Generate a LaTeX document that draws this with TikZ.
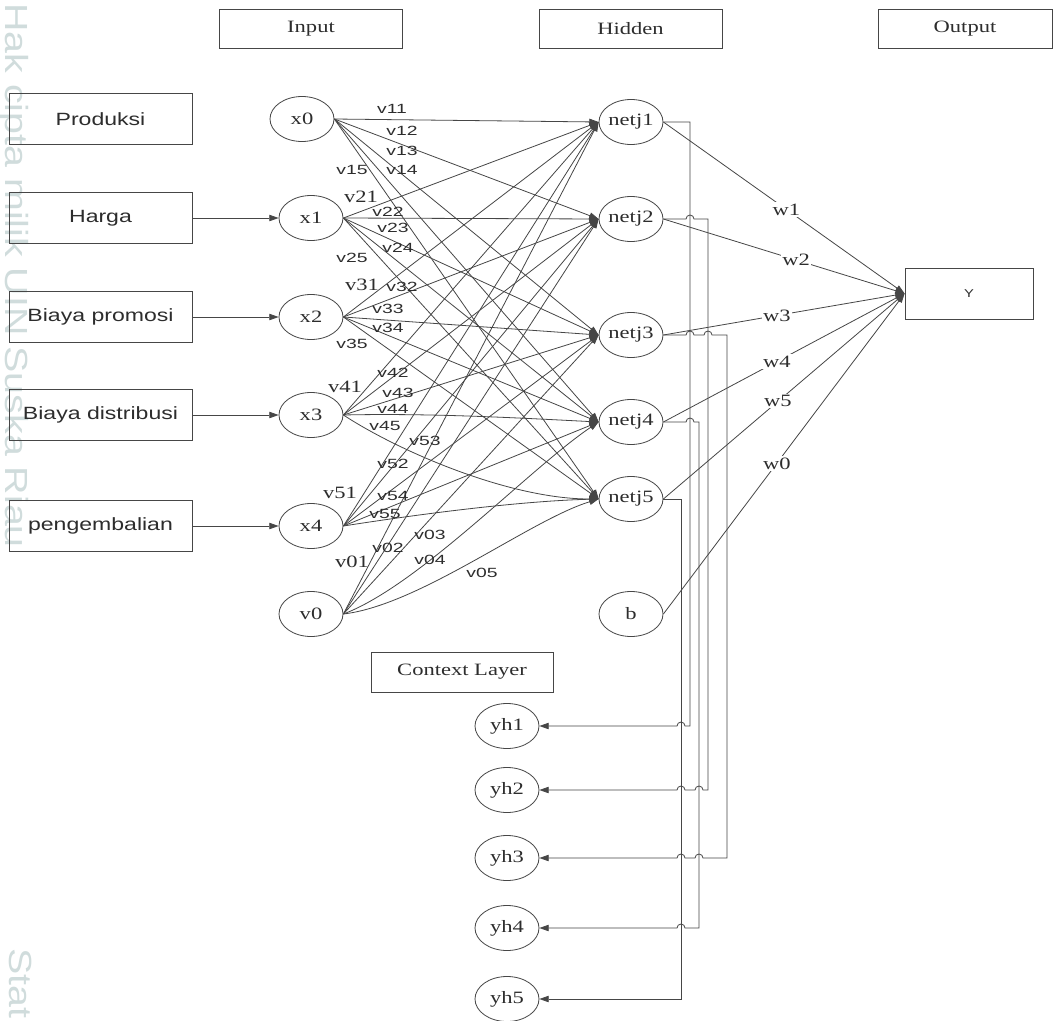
\documentclass[tikz,border=0pt]{standalone}
\usepackage{fontspec}
\usepackage{graphicx}
\setmainfont{Liberation Serif}
\newfontfamily\arialf{Liberation Sans}
\usetikzlibrary{arrows.meta,shapes.geometric}

\definecolor{linec}{RGB}{70,70,70}
\definecolor{txtc}{RGB}{45,45,45}
\definecolor{wmc}{RGB}{208,220,220}

% horizontally widened text
\newcommand\sw[2][1.3]{\scalebox{#1}[1]{#2}}
\newcommand\swl[1]{\scalebox{1.45}[1]{#1}}

\tikzset{
  ln/.style={draw=linec, line width=0.6pt},
  tip/.style={-{Triangle[length=7pt,width=4.8pt]}},
  neuron/.style={ellipse, draw=linec, line width=0.6pt, minimum width=48pt,
    minimum height=33.75pt, inner sep=0pt, text=txtc, font=\fontsize{13}{13}\selectfont},
  tbox/.style={rectangle, draw=linec, line width=0.6pt, minimum width=137.25pt,
    minimum height=29.25pt, inner sep=0pt, text=txtc, font=\fontsize{13}{13}\selectfont},
  lbox/.style={rectangle, draw=linec, line width=0.6pt, minimum width=137.25pt,
    minimum height=38.25pt, inner sep=0pt, text=txtc, font=\arialf\fontsize{13.3}{14}\selectfont},
  vlab/.style={inner sep=0pt, text=txtc, font=\arialf\fontsize{10}{10}\selectfont},
  slab/.style={inner sep=0pt, text=txtc, font=\fontsize{13}{13}\selectfont},
  wl/.style={fill=white, inner sep=1pt, text=txtc, font=\fontsize{13}{13}\selectfont},
  wmark/.style={inner sep=0pt, text=wmc, font=\arialf\fontsize{24}{24}\selectfont},
}

\begin{document}
\begin{tikzpicture}[x=0.75pt,y=-0.75pt]
\useasboundingbox (0,0) rectangle (1054,1021);
\fill[white] (0,0) rectangle (1054,1021);

% page watermark along the left edge
\node[wmark, anchor=west, rotate=-90] (wm1) at (14,3) {\scalebox{1.23}[1]{Hak cipta milik UIN Suska Riau}};
\node[wmark, anchor=west, rotate=-90] (wm2) at (21,948) {\scalebox{1.23}[1]{Stat}};

% layer headings
\node[tbox] (hin) at (311,28.5) {\sw{Input}};
\node[tbox] (hhid) at (630.5,28.5) {\sw{Hidden}};
\node[tbox, minimum width=130.5pt] (hout) at (965,28.5) {\sw{Output}};

% variable boxes
\node[lbox] (bprod) at (100.5,119) {\sw{Produksi}};
\node[lbox] (bharga) at (100.5,218) {\sw{Harga}};
\node[lbox] (bpromo) at (100.5,317) {\sw{Biaya promosi}};
\node[lbox] (bdist) at (100.5,415) {\sw{Biaya distribusi}};
\node[lbox] (bkemb) at (100.5,526) {\sw{pengembalian}};

% input neurons
\node[neuron] (x0) at (302,119) {\sw{x0}};
\node[neuron] (x1) at (311,218) {\sw{x1}};
\node[neuron] (x2) at (311,317) {\sw{x2}};
\node[neuron] (x3) at (311,415) {\sw{x3}};
\node[neuron] (x4) at (311,526) {\sw{x4}};
\node[neuron] (v0) at (311,614) {\sw{v0}};

% hidden neurons
\node[neuron] (n1) at (631,122) {\sw{netj1}};
\node[neuron] (n2) at (631,219) {\sw{netj2}};
\node[neuron] (n3) at (631,335) {\sw{netj3}};
\node[neuron] (n4) at (631,422) {\sw{netj4}};
\node[neuron] (n5) at (631,499) {\sw{netj5}};
\node[neuron] (b) at (631,614) {\sw{b}};

% output
\node[rectangle, draw=linec, line width=0.6pt, minimum width=96pt, minimum height=38.25pt,
  inner sep=0pt, text=txtc, font=\arialf\fontsize{8.5}{9}\selectfont] (yb) at (969,293.5) {\sw{Y}};

% context layer
\node[tbox, minimum width=136.5pt, minimum height=30pt] (ctx) at (462,672) {\sw{Context Layer}};
\node[neuron] (yh1) at (507,726) {\sw{yh1}};
\node[neuron] (yh2) at (507,790) {\sw{yh2}};
\node[neuron] (yh3) at (507,858) {\sw{yh3}};
\node[neuron] (yh4) at (507,928) {\sw{yh4}};
\node[neuron] (yh5) at (507,999) {\sw{yh5}};

% variables into input neurons
\draw[ln,tip] (bharga) -- (x1);
\draw[ln,tip] (bpromo) -- (x2);
\draw[ln,tip] (bdist) -- (x3);
\draw[ln,tip] (bkemb) -- (x4);

% input -> hidden weights
\foreach \s in {x0,x1,x2,x3,x4,v0}{
  \foreach \t in {n1,n2,n3}{
    \draw[ln,tip] (\s.east) -- (\t.west);
  }
}
\foreach \s in {x0,x1,x2}{
  \foreach \t in {n4,n5}{
    \draw[ln,tip] (\s.east) -- (\t.west);
  }
}
\draw[ln,tip] (x3.east) .. controls (430,413) and (520,418) .. (n4.west);
\draw[ln,tip] (x3.east) .. controls (400,452) and (510,499) .. (n5.west);
\draw[ln,tip] (x4.east) -- (n4.west);
\draw[ln,tip] (x4.east) .. controls (420,514) and (520,501) .. (n5.west);
\draw[ln,tip] (v0.east) .. controls (420,585) and (530,468) .. (n4.west);
\draw[ln,tip] (v0.east) .. controls (420,605) and (530,520) .. (n5.west);

% weight labels
\node[vlab] (lv11) at (392,109) {\swl{v11}};
\node[vlab] (lv12) at (402,131) {\swl{v12}};
\node[vlab] (lv13) at (402,151) {\swl{v13}};
\node[vlab] (lv14) at (402,170) {\swl{v14}};
\node[vlab] (lv15) at (352,170) {\swl{v15}};
\node[slab] (lv21) at (361,197) {\sw{v21}};
\node[vlab] (lv22) at (388,212) {\swl{v22}};
\node[vlab] (lv23) at (393,228) {\swl{v23}};
\node[vlab] (lv24) at (398,248) {\swl{v24}};
\node[vlab] (lv25) at (352,258) {\swl{v25}};
\node[slab] (lv31) at (362,285) {\sw{v31}};
\node[vlab] (lv32) at (402,287) {\swl{v32}};
\node[vlab] (lv33) at (388,309) {\swl{v33}};
\node[vlab] (lv34) at (388,328) {\swl{v34}};
\node[vlab] (lv35) at (352,344) {\swl{v35}};
\node[vlab] (lv42) at (393,373) {\swl{v42}};
\node[slab] (lv41) at (345,387) {\sw{v41}};
\node[vlab] (lv43) at (398,393) {\swl{v43}};
\node[vlab] (lv44) at (393,409) {\swl{v44}};
\node[vlab] (lv45) at (385,426) {\swl{v45}};
\node[vlab] (lv53) at (425,441) {\swl{v53}};
\node[vlab] (lv52) at (393,464) {\swl{v52}};
\node[slab] (lv51) at (340,493) {\sw{v51}};
\node[vlab] (lv54) at (393,496) {\swl{v54}};
\node[vlab] (lv55) at (385,514) {\swl{v55}};
\node[vlab] (lv03) at (430,535) {\swl{v03}};
\node[vlab] (lv02) at (388,548) {\swl{v02}};
\node[slab] (lv01) at (352,562) {\sw{v01}};
\node[vlab] (lv04) at (430,560) {\swl{v04}};
\node[vlab] (lv05) at (482,573) {\swl{v05}};

% hidden -> output weights
\draw[ln,tip] (n1.east) -- node[wl,pos=.51] (lw1) {\sw{w1}} (yb.west);
\draw[ln,tip] (n2.east) -- node[wl,pos=.55] (lw2) {\sw{w2}} (yb.west);
\draw[ln,tip] (n3.east) -- node[wl,pos=.47] (lw3) {\sw{w3}} (yb.west);
\draw[ln,tip] (n4.east) -- node[wl,pos=.47] (lw4) {\sw{w4}} (yb.west);
\draw[ln,tip] (n5.east) -- node[wl,pos=.475] (lw5) {\sw{w5}} (yb.west);
\draw[ln,tip] (b.east) -- node[wl,pos=.47] (lw0) {\sw{w0}} (yb.west);

% copies of hidden outputs into the context layer (with line hops)
\draw[ln,tip] (n1.east) -- (690,122) -- (690,726) -- (685,726) arc (0:180:3pt) -- (yh1.east);
\draw[ln,tip] (n2.east) -- (686,219) arc (180:0:3pt) -- (708,219) -- (708,790)
  -- (703,790) arc (0:180:3pt) -- (685,790) arc (0:180:3pt) -- (yh2.east);
\draw[ln,tip] (n3.east) -- (686,335) arc (180:0:3pt) -- (704,335) arc (180:0:3pt) -- (727,335)
  -- (727,858) -- (703,858) arc (0:180:3pt) -- (685,858) arc (0:180:3pt) -- (yh3.east);
\draw[ln,tip] (n4.east) -- (686,422) arc (180:0:3pt) -- (699,422) -- (699,928)
  -- (685,928) arc (0:180:3pt) -- (yh4.east);
\draw[ln,tip] (n5.east) -- (681,499) -- (681,999) -- (yh5.east);
\end{tikzpicture}
\end{document}
